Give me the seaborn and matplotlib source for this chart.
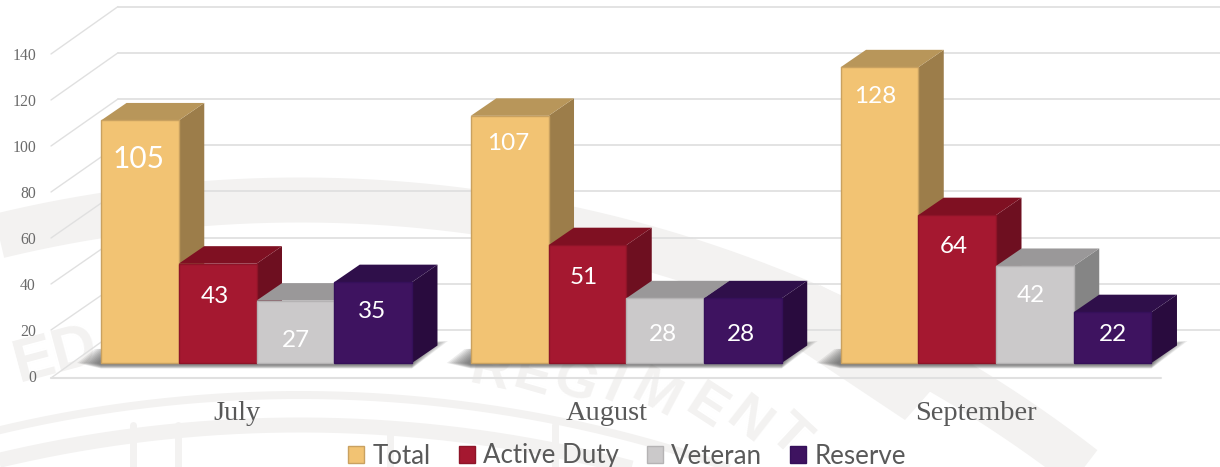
import numpy as np
import pandas as pd
import matplotlib
matplotlib.use("Agg")
import matplotlib.pyplot as plt
from matplotlib.patches import Polygon, Rectangle
from matplotlib.transforms import Affine2D
import seaborn as sns

months = ["July", "August", "September"]
series = ["Total", "Active Duty", "Veteran", "Reserve"]
total = [105, 107, 128]
active = [43, 51, 64]
veteran = [27, 28, 42]
reserve = [35, 28, 22]
y_ticks = [0, 20, 40, 60, 80, 100, 120, 140]

W, H = 1220, 467
front = {"Total": "#F2C373", "Active Duty": "#A51830", "Veteran": "#CBC9CA", "Reserve": "#3E1360"}
side = {"Total": "#9C7D4A", "Active Duty": "#6E0F20", "Veteran": "#858585", "Reserve": "#290B3E"}
top = {"Total": "#B8965A", "Active Duty": "#7F1022", "Veteran": "#9A9899", "Reserve": "#2F0F4A"}
edge = {"Total": "#C9A160", "Active Duty": "#8E1428", "Veteran": "#B5B3B4", "Reserve": "#35105A"}

sns.set_theme(style="white")
fig = plt.figure(figsize=(W / 100, H / 100), dpi=100)
ax = fig.add_axes([0, 0, 1, 1])

df = pd.DataFrame({
    "month": np.repeat(months, 4),
    "series": series * 3,
    "value": np.column_stack([total, active, veteran, reserve]).ravel(),
})
sns.barplot(data=df, x="month", y="value", hue="series", order=months, hue_order=series,
            palette=front, saturation=1, width=0.841, gap=0, errorbar=None, ax=ax, zorder=5)

# axes fill the figure; one data unit = 2.31 px, one category = 369.75 px
PXU, PXC = 2.31, 369.75
X0, Y0 = 256.5, 363
ax.set_xlim(-X0 / PXC, (W - X0) / PXC)
ax.set_ylim(-(H - Y0) / PXU, Y0 / PXU)
ax.axis("off")
px = Affine2D().scale(1, -1).translate(0, H)  # reference pixel coordinates
DX, DY = 25.5 / PXC, 17.5 / PXU

# ---- watermark
WM = "#F3F2F1"
def ring(cx, yc, R, lw):
    t = np.linspace(-1.0, 1.0, 300)
    xs = cx + R * np.sin(t)
    ys = yc - R * np.cos(t)
    ax.plot(xs, ys, color=WM, lw=lw * 0.72, transform=px, zorder=0, solid_capstyle="butt")

ring(300, 1480, 1280, 45)
ring(300, 1695, 1300, 8)
ring(300, 1725, 1300, 15)
ax.add_patch(Polygon([(820, 285), (942, 350), (942, 378), (905, 420), (800, 350)], closed=True,
                     fc=WM, ec="none", transform=px, zorder=0))
for xv in [133, 178, 390, 555]:
    ax.plot([xv, xv], [425, 467], color=WM, lw=5, transform=px, zorder=0)
ax.text(56, 356, "ED", fontsize=44, fontweight="bold", family="Liberation Sans", color=WM,
        rotation=15, ha="center", va="center", transform=px, zorder=0)
letters = [("R", 490, 372, -12), ("E", 532, 378, -16), ("G", 575, 384, -20), ("I", 613, 388, -24),
           ("M", 655, 396, -28), ("E", 705, 408, -33), ("N", 748, 422, -38), ("T", 788, 436, -43)]
for ch, lx, ly, rot in letters:
    ax.text(lx, ly, ch, fontsize=40, fontweight="bold", family="Liberation Sans", color=WM,
            rotation=rot, ha="center", va="center", transform=px, zorder=0)

# ---- gridlines (back wall, side wall, floor)
GRID = "#E0E0E0"
for v in y_ticks:
    by = 330 - PXU * v
    fy = 376 - 2.3 * v
    ax.plot([118, W], [by, by], color=GRID, lw=1.3, transform=px, zorder=1)
    ax.plot([51, 118], [fy + 2 if v == 0 else fy, by], color=GRID, lw=1.0, transform=px, zorder=1)
    ax.text(36, fy + 1.5, str(v), family="Liberation Serif", fontsize=11.3, color="#6A6A6A",
            ha="right", va="center", transform=px, zorder=6)
ax.plot([51, 1161], [378, 378], color=GRID, lw=1.5, transform=px, zorder=1)

# ---- 3D faces, built from the bars that seaborn drew
rects = [c.patches for c in ax.containers[:4]]
for g in range(len(months)):
    x0 = rects[0][g].get_x()
    x1 = rects[3][g].get_x() + rects[3][g].get_width()
    for k in range(10):
        left = (x0 - (24 - 2.2 * k) / PXC)
        right = (x1 + (36 - 2.2 * k) / PXC)
        low = -(5.5 - 0.4 * k) / PXU
        ax.add_patch(Polygon([(left, 0), (left + 18 / PXC, 14 / PXU), (right, 22 / PXU - 0.5 * k / PXU),
                              (x1, low), (x0, low)],
                             closed=True, fc="#4A4A4A", ec="none", alpha=0.10, zorder=2))

z = 5.0
for g in range(len(months)):
    for s, name in enumerate(series):
        r = rects[s][g]
        x, w, h = r.get_x(), r.get_width(), r.get_height()
        z += 0.01
        ax.add_patch(Polygon([(x + w, 0), (x + w + DX, DY), (x + w + DX, h + DY), (x + w, h)],
                             closed=True, fc=side[name], ec="none", zorder=z))
        ax.add_patch(Polygon([(x, h), (x + DX, h + DY), (x + w + DX, h + DY), (x + w, h)],
                             closed=True, fc=top[name], ec="none", zorder=z))
        z += 0.01
        r.set_zorder(z)
        r.set_edgecolor(edge[name])
        r.set_linewidth(1.0)

# ---- value labels
label_lift = [[39, 33, 40, 29], [28, 32, 36, 36], [29, 31, 30, 22]]
label_shift = [[-1, -3, 1, -1], [-1, -4, -2, -2], [-4, -3, -4, 0]]
for g in range(len(months)):
    for s in range(4):
        r = rects[s][g]
        h = r.get_height()
        cx = r.get_x() + r.get_width() / 2 + label_shift[g][s] / PXC
        cy = h - label_lift[g][s] / PXU
        size = 21.5 if (g == 0 and s == 0) else (17.5 if s == 0 else 17.5)
        ax.text(cx, cy, f"{int(h)}", color="white", family="Lato", fontsize=size,
                ha="center", va="center", zorder=9)

# ---- category labels
for i, m in enumerate(months):
    ax.text(i - 20 / PXC, -50 / PXU, m, family="Liberation Serif", fontsize=20.5, color="#595959",
            ha="center", va="center", zorder=9)

# ---- legend
handles = [Rectangle((0, 0), 1, 1, fc=front[n], ec=edge[n], lw=1) for n in series]
leg = ax.legend(handles, series, ncol=4, frameon=False, loc="center", bbox_to_anchor=(627 / W, 1 - 456 / H),
                prop={"family": "Lato", "size": 18.6}, labelcolor="#595959",
                handlelength=0.62, handleheight=0.62, handletextpad=0.32, columnspacing=1.08,
                borderpad=0, borderaxespad=0)
leg.set_zorder(10)

fig.savefig("out.png", dpi=100)
